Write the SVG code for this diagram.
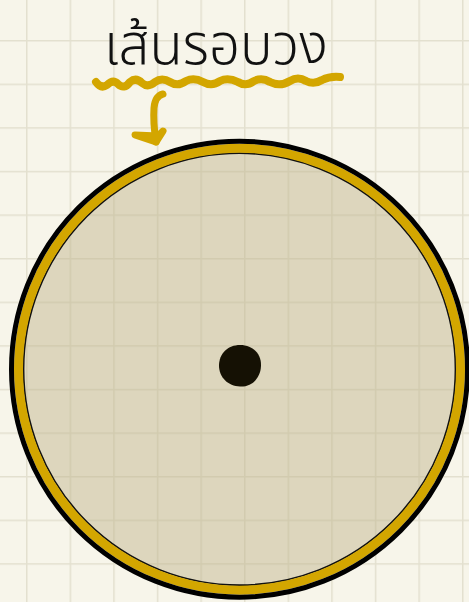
<svg xmlns="http://www.w3.org/2000/svg" width="469" height="602" viewBox="0 0 469 602">
  <defs>
    <pattern id="grid" patternUnits="userSpaceOnUse" x="26" y="40" width="43.6" height="43.6">
      <path d="M0 0V43.6M0 0H43.6" fill="none" stroke="#e3e0cf" stroke-width="3"/>
    </pattern>
    <style>
      .gold { fill: none; stroke: #d3a600; stroke-linecap: round; stroke-linejoin: round; }
    </style>
  </defs>
  <rect width="469" height="602" fill="#f7f5ea"/>
  <rect width="469" height="602" fill="url(#grid)"/>

  <g id="circle">
    <circle cx="239.5" cy="369.2" r="216" fill="#bdb188" fill-opacity="0.45" stroke="#111" stroke-width="1.8"/>
    <circle cx="239.5" cy="369.2" r="221" fill="none" stroke="#d3a600" stroke-width="9"/>
    <circle cx="239.5" cy="369.2" r="228" fill="none" stroke="#000" stroke-width="5"/>
  </g>

  <g id="center">
    <path d="M240 345 C253 345 261.5 354 261 366 C260.5 378 252 387 240 386.5 C228 386 219 377.5 219 365.5 C219 353.5 228 345 240 345 Z" fill="#151104"/>
  </g>

  <g id="label">
    <text x="216" y="64" text-anchor="middle" font-family="'Noto Sans Thai','Noto Sans','DejaVu Sans',sans-serif" font-weight="300" font-size="56" fill="#111" textLength="224" lengthAdjust="spacingAndGlyphs">เส้นรอบวง</text>
  </g>

  <g id="connectors">
    <path class="gold" stroke-width="8" d="M96 82 Q101 89 107 85 Q113 79 118 84 Q124 90 130 82 Q136 77 142 83 Q148 88 155 82 Q162 77 170 82 Q178 87 186 81 Q194 77 203 82 Q212 87 220 81 Q228 77 238 82 Q246 87 254 81 Q262 77 270 82 Q280 87 290 81 Q298 76 306 81 Q314 85 322 80 Q330 76 340 77"/>
    <path class="gold" stroke-width="7" d="M163 94 Q155 96 154 108 Q153 122 156 142"/>
    <path class="gold" stroke-width="7" d="M135 135 L156 142 L163 131 L158 136 Z"/>
  </g>
</svg>
